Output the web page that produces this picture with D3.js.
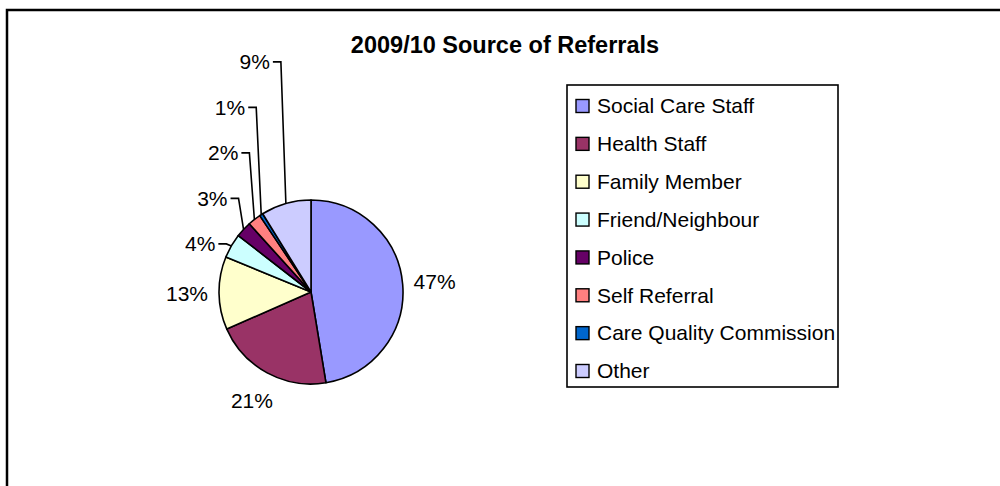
<!DOCTYPE html>
<html>
<head>
<meta charset="utf-8">
<script src="https://cdn.jsdelivr.net/npm/d3@7"></script>
<style>
  html, body { margin: 0; padding: 0; background: #fff; }
  svg { display: block; }
  text { font-family: "Liberation Sans", Arial, Helvetica, sans-serif; fill: #000; }
</style>
</head>
<body>
<svg id="chart" width="1000" height="486"></svg>
<script>
const title = "2009/10 Source of Referrals";
const categories = ["Social Care Staff", "Health Staff", "Family Member", "Friend/Neighbour",
                    "Police", "Self Referral", "Care Quality Commission", "Other"];
const values = [47.4, 21.0, 12.8, 4.3, 2.8, 2.3, 0.6, 8.8];
const colors = ["#9999FF", "#993366", "#FFFFCC", "#CCFFFF", "#660066", "#FF8080", "#0066CC", "#CCCCFF"];

const svg = d3.select("#chart");
const W = 1000, H = 486;

// outer chart frame (extends beyond the bottom/right of the window)
svg.append("path")
  .attr("d", `M7,${H + 10} V10 H${W + 10}`)
  .attr("fill", "none").attr("stroke", "#000").attr("stroke-width", 2.5);

svg.append("text")
  .attr("x", 505).attr("y", 53)
  .attr("text-anchor", "middle")
  .attr("font-weight", "bold")
  .attr("font-size", 23.5)
  .text(title);

const cx = 311, cy = 292, r = 92;
const total = d3.sum(values);
const pie = d3.pie().sort(null).value(d => d);
const arcs = pie(values);
const arc = d3.arc().innerRadius(0).outerRadius(r);

const g = svg.append("g").attr("transform", `translate(${cx},${cy})`);
g.selectAll("path.slice").data(arcs).enter().append("path")
  .attr("class", "slice")
  .attr("d", arc)
  .attr("fill", (d, i) => colors[i])
  .attr("stroke", "#000").attr("stroke-width", 1.6).attr("stroke-linejoin", "round");

const pt = (a, R) => [R * Math.sin(a), -R * Math.cos(a)];
const mid = d => (d.startAngle + d.endAngle) / 2;
const pct = v => Math.round(v / total * 100) + "%";
const fs = 21;

// large slices: label outside along mid angle
arcs.filter(d => d.value >= 10).forEach(d => {
  const [x, y] = pt(mid(d), r + 32);
  g.append("text").attr("x", x).attr("y", y).attr("dy", "0.35em")
    .attr("text-anchor", "middle").attr("font-size", fs).text(pct(d.value));
});

// small slices: stacked labels with leader lines
const small = arcs.filter(d => d.value < 10);
let y0 = null;
small.forEach((d, i) => {
  const [ax, ay] = pt(mid(d), r);
  if (y0 === null) y0 = ay - 2;
  const ly = y0 - 45.5 * i;
  g.append("polyline")
    .attr("points", `${ax},${ay} ${ax - 5},${ly} ${ax - 13},${ly}`)
    .attr("fill", "none").attr("stroke", "#000").attr("stroke-width", 1.6);
  g.append("text").attr("x", ax - 16).attr("y", ly).attr("dy", "0.35em")
    .attr("text-anchor", "end").attr("font-size", fs).text(pct(d.value));
});

// legend
const lg = svg.append("g");
const lx = 567, ly0 = 85, lw = 271, lh = 302;
lg.append("rect").attr("x", lx).attr("y", ly0).attr("width", lw).attr("height", lh)
  .attr("fill", "#fff").attr("stroke", "#000").attr("stroke-width", 1.6);
const rowY = d3.scalePoint().domain(categories).range([106, 371]);
categories.forEach((c, i) => {
  const y = rowY(c);
  lg.append("rect").attr("x", 576).attr("y", y - 6.5).attr("width", 13).attr("height", 13)
    .attr("fill", colors[i]).attr("stroke", "#000").attr("stroke-width", 1.4);
  lg.append("text").attr("x", 597).attr("y", y).attr("dy", "0.35em")
    .attr("font-size", fs).text(c);
});
</script>
</body>
</html>
